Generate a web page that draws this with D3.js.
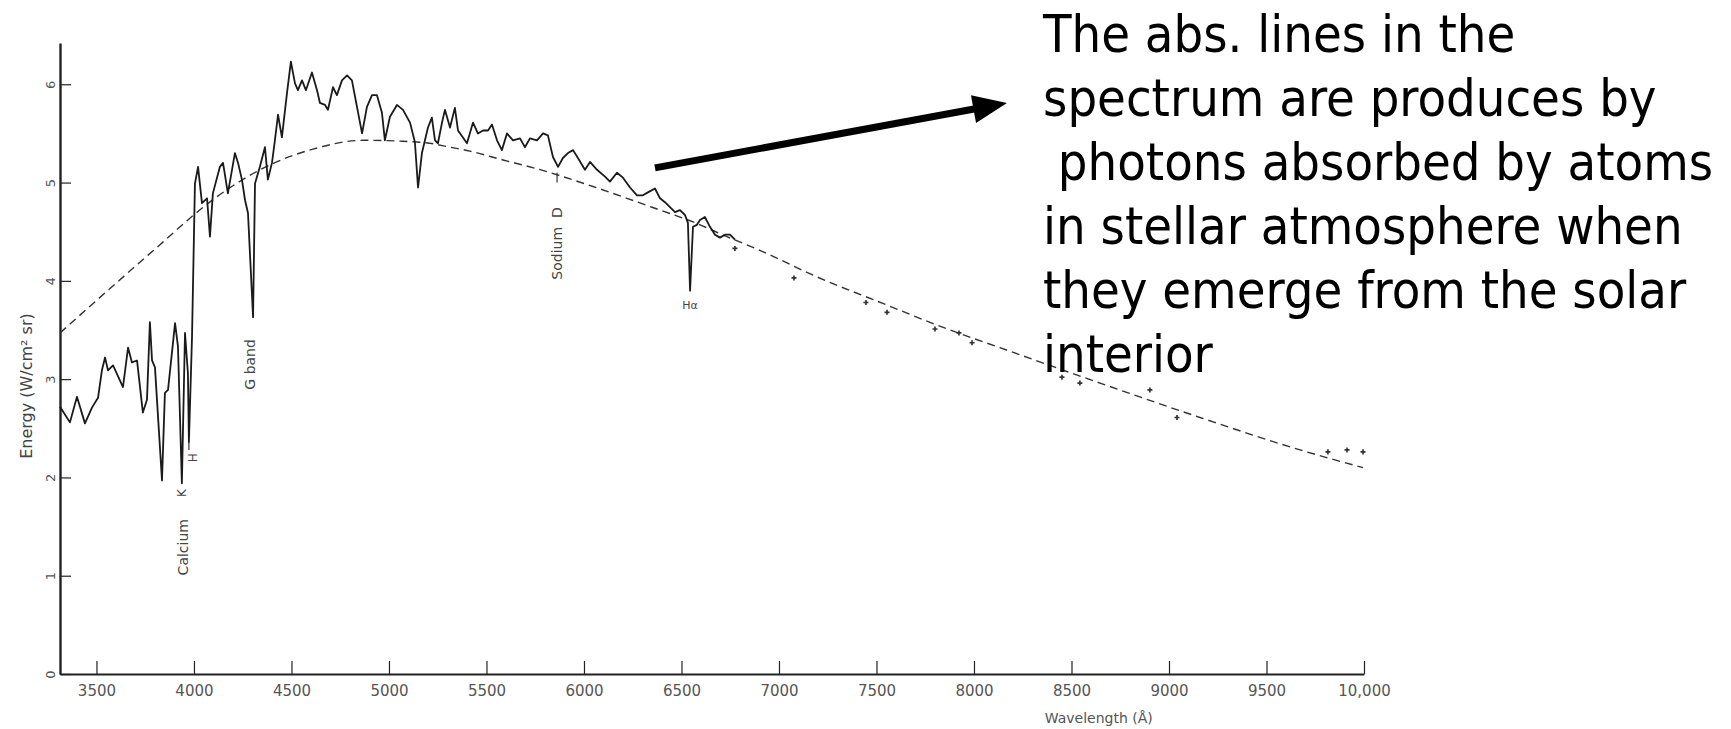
<!DOCTYPE html>
<html>
<head>
<meta charset="utf-8">
<script src="https://cdn.jsdelivr.net/npm/d3@7"></script>
<style>
  html, body { margin: 0; padding: 0; background: #fff; }
  svg { display: block; }
  .axis path, .axis line { stroke: #222; }
  .axis text { fill: #555; font-family: 'DejaVu Sans', sans-serif; }
</style>
</head>
<body>
<svg id="chart" width="1731" height="729"></svg>
<script>
// solar spectrum: [wavelength (Å), energy (W/cm² sr)]
const spectrum = [
  [3313, 2.72], [3364, 2.56], [3400, 2.82], [3441, 2.55], [3477, 2.71], [3508, 2.81],
  [3528, 3.09], [3544, 3.22], [3559, 3.09], [3585, 3.14], [3636, 2.92], [3662, 3.32],
  [3682, 3.17], [3708, 3.19], [3738, 2.66], [3759, 2.79], [3774, 3.58], [3785, 3.19],
  [3800, 3.12], [3836, 1.97], [3851, 2.86], [3867, 2.89], [3903, 3.57], [3918, 3.33],
  [3938, 1.94], [3954, 3.47], [3969, 3.06], [3974, 2.36], [3990, 3.43], [4005, 4.99],
  [4021, 5.16], [4041, 4.79], [4067, 4.84], [4082, 4.45], [4097, 4.89], [4133, 5.16],
  [4149, 5.2], [4174, 4.89], [4210, 5.3], [4226, 5.2], [4246, 5.03], [4262, 4.82],
  [4277, 4.69], [4303, 3.63], [4313, 4.99], [4338, 5.16], [4364, 5.36], [4379, 5.03],
  [4400, 5.2], [4415, 5.43], [4431, 5.69], [4451, 5.46], [4477, 5.91], [4497, 6.23],
  [4518, 6.01], [4533, 5.94], [4554, 6.04], [4574, 5.94], [4605, 6.12], [4631, 5.94],
  [4646, 5.81], [4672, 5.79], [4687, 5.74], [4713, 5.97], [4733, 5.89], [4759, 6.04],
  [4785, 6.09], [4810, 6.04], [4836, 5.77], [4862, 5.5], [4887, 5.77], [4913, 5.89],
  [4938, 5.89], [4964, 5.71], [4979, 5.43], [5005, 5.67], [5041, 5.79], [5072, 5.74],
  [5108, 5.61], [5133, 5.41], [5149, 4.95], [5169, 5.3], [5200, 5.56], [5220, 5.66],
  [5236, 5.43], [5251, 5.4], [5272, 5.61], [5287, 5.74], [5313, 5.56], [5338, 5.76],
  [5354, 5.53], [5400, 5.4], [5431, 5.61], [5456, 5.5], [5482, 5.53], [5508, 5.53],
  [5528, 5.59], [5554, 5.43], [5579, 5.33], [5605, 5.5], [5636, 5.43], [5672, 5.45],
  [5697, 5.36], [5723, 5.45], [5759, 5.43], [5790, 5.5], [5815, 5.48], [5841, 5.26],
  [5867, 5.16], [5892, 5.25], [5918, 5.3], [5944, 5.33], [5969, 5.25], [6005, 5.13],
  [6031, 5.21], [6067, 5.13], [6108, 5.06], [6133, 5.01], [6169, 5.1], [6200, 5.05],
  [6236, 4.95], [6272, 4.87], [6302, 4.87], [6328, 4.9], [6364, 4.94], [6390, 4.84],
  [6415, 4.8], [6441, 4.75], [6467, 4.7], [6492, 4.72], [6518, 4.67], [6533, 4.59],
  [6544, 3.9], [6559, 4.55], [6579, 4.57], [6595, 4.62], [6620, 4.65], [6646, 4.55],
  [6672, 4.47], [6697, 4.44], [6723, 4.47], [6749, 4.47], [6774, 4.42]
];

// smooth continuum (dashed)
const continuum = [
  [3313, 3.47], [3500, 3.8], [3700, 4.15], [3850, 4.41], [3969, 4.62], [4100, 4.83],
  [4250, 5.03], [4390, 5.18], [4610, 5.34], [4867, 5.43], [5072, 5.42],
  [5210, 5.4], [5313, 5.36], [5415, 5.32], [5585, 5.23], [5759, 5.14], [5877, 5.07],
  [6046, 4.96], [6220, 4.84], [6390, 4.72], [6559, 4.6], [6733, 4.45], [6902, 4.31],
  [7195, 4.04], [7533, 3.77], [7877, 3.5], [8133, 3.32], [8646, 2.96], [9159, 2.61],
  [9672, 2.28], [9995, 2.1]
];

// single measured points in the red
const measured = [
  [6774, 4.33], [7077, 4.03], [7446, 3.78], [7554, 3.68], [7800, 3.51], [7923, 3.47],
  [7990, 3.37], [8451, 3.02], [8543, 2.96], [8902, 2.89], [9041, 2.61], [9815, 2.26],
  [9913, 2.28], [9995, 2.26]
];

const xTicks = [3500, 4000, 4500, 5000, 5500, 6000, 6500, 7000, 7500, 8000, 8500, 9000, 9500, 10000];
const yTicks = [0, 1, 2, 3, 4, 5, 6];

// absorption line names, their wavelength and the energy where the label sits
const lineNames = ['Calcium', 'K', 'H', 'G band', 'Sodium  D'];
const lineWavelengths = [3943, 3938, 3995, 4287, 5862];
const lineLabelEnergy = [1.29, 1.84, 2.2, 3.15, 4.38];

const noteLines = [
  'The abs. lines in the',
  'spectrum are produces by',
  ' photons absorbed by atoms',
  'in stellar atmosphere when',
  'they emerge from the solar',
  'interior'
];

(() => {
  const svg = d3.select('#chart');
  svg.append('rect').attr('width', 1731).attr('height', 729).attr('fill', '#fff');

  const x = d3.scaleLinear().domain([3313, 10000]).range([60, 1364]);
  const y = d3.scaleLinear().domain([0, 6.42]).range([674, 43]);

  // axes
  const xAxis = svg.append('g')
    .attr('class', 'axis')
    .attr('transform', `translate(0,${y(0)})`)
    .call(d3.axisBottom(x)
      .tickValues(xTicks)
      .tickSize(-13)
      .tickSizeOuter(0)
      .tickPadding(11)
      .tickFormat((d) => (d === 10000 ? '10,000' : String(d))));
  xAxis.select('.domain').attr('stroke-width', 1.8);
  xAxis.selectAll('.tick line').attr('stroke-width', 1.2);
  xAxis.selectAll('text').attr('font-size', 15);

  const yAxis = svg.append('g')
    .attr('class', 'axis')
    .attr('transform', `translate(${x(3313)},0)`)
    .call(d3.axisLeft(y)
      .tickValues(yTicks)
      .tickSize(-11)
      .tickSizeOuter(0)
      .tickFormat(d3.format('d')));
  yAxis.select('.domain').attr('stroke-width', 2.4).attr('stroke', '#111');
  yAxis.selectAll('.tick line').attr('stroke-width', 1.2);
  yAxis.selectAll('text')
    .attr('font-size', 13)
    .attr('x', 0)
    .attr('dy', '0.35em')
    .attr('text-anchor', 'middle')
    .attr('transform', 'translate(-10,0) rotate(-90)');

  svg.append('text')
    .attr('transform', `translate(26,${y(2.93)}) rotate(-90)`)
    .attr('text-anchor', 'middle')
    .attr('dy', '0.35em')
    .attr('font-family', 'DejaVu Sans, sans-serif')
    .attr('font-size', 16)
    .attr('fill', '#444')
    .text('Energy (W/cm² sr)');

  svg.append('text')
    .attr('x', x(8640))
    .attr('y', 723)
    .attr('text-anchor', 'middle')
    .attr('font-family', 'DejaVu Sans, sans-serif')
    .attr('font-size', 14)
    .attr('fill', '#555')
    .text('Wavelength (Å)');

  // continuum
  svg.append('path')
    .datum(continuum)
    .attr('fill', 'none')
    .attr('stroke', '#333')
    .attr('stroke-width', 1.4)
    .attr('stroke-dasharray', '8,5')
    .attr('d', d3.line().x((d) => x(d[0])).y((d) => y(d[1])).curve(d3.curveMonotoneX));

  // observed spectrum
  svg.append('path')
    .datum(spectrum)
    .attr('fill', 'none')
    .attr('stroke', '#1a1a1a')
    .attr('stroke-width', 1.8)
    .attr('stroke-linejoin', 'round')
    .attr('d', d3.line().x((d) => x(d[0])).y((d) => y(d[1])));

  svg.append('g')
    .selectAll('path')
    .data(measured)
    .join('path')
    .attr('transform', (d) => `translate(${x(d[0])},${y(d[1])})`)
    .attr('d', d3.symbol(d3.symbolCross, 14))
    .attr('fill', '#333');

  // line labels
  svg.append('g')
    .selectAll('text')
    .data(lineNames)
    .join('text')
    .attr('transform', (d, i) => `translate(${x(lineWavelengths[i])},${y(lineLabelEnergy[i])}) rotate(-90)`)
    .attr('text-anchor', 'middle')
    .attr('dy', '0.35em')
    .attr('font-family', 'DejaVu Sans, sans-serif')
    .attr('font-size', (d) => (d.length === 1 ? 12 : 14))
    .attr('fill', '#444')
    .style('white-space', 'pre')
    .text((d) => d);

  // short leaders for H and Sodium D
  svg.append('line')
    .attr('x1', x(3974)).attr('x2', x(3974))
    .attr('y1', y(2.36)).attr('y2', y(2.28))
    .attr('stroke', '#333').attr('stroke-width', 1.2);
  svg.append('line')
    .attr('x1', x(5862)).attr('x2', x(5862))
    .attr('y1', y(5.1)).attr('y2', y(5.0))
    .attr('stroke', '#333').attr('stroke-width', 1.2);

  svg.append('text')
    .attr('x', x(6544))
    .attr('y', y(3.75))
    .attr('text-anchor', 'middle')
    .attr('dy', '0.35em')
    .attr('font-family', 'DejaVu Sans, sans-serif')
    .attr('font-size', 11)
    .attr('fill', '#444')
    .text('Hα');

  // annotation arrow
  const start = [x(6364), y(5.15)];
  const tip = [x(8169), y(5.81)];
  const dx = tip[0] - start[0];
  const dy = tip[1] - start[1];
  const len = Math.hypot(dx, dy);
  const u = [dx / len, dy / len];
  const n = [-u[1], u[0]];
  const headLen = 34;
  const headHalf = 14;
  const base = [tip[0] - headLen * u[0], tip[1] - headLen * u[1]];

  svg.append('line')
    .attr('x1', start[0]).attr('y1', start[1])
    .attr('x2', base[0] + 2 * u[0]).attr('y2', base[1] + 2 * u[1])
    .attr('stroke', '#000')
    .attr('stroke-width', 7);
  svg.append('path')
    .attr('d', `M${tip[0]},${tip[1]}L${base[0] + headHalf * n[0]},${base[1] + headHalf * n[1]}L${base[0] - headHalf * n[0]},${base[1] - headHalf * n[1]}Z`)
    .attr('fill', '#000');

  // note text
  svg.append('g')
    .selectAll('text')
    .data(noteLines)
    .join('text')
    .attr('x', 1043)
    .attr('y', (d, i) => 52 + i * 64)
    .attr('font-family', 'DejaVu Sans Condensed, DejaVu Sans, sans-serif')
    .attr('font-stretch', 'condensed')
    .attr('font-size', 52)
    .attr('fill', '#000')
    .style('white-space', 'pre')
    .text((d) => d);
})();
</script>
</body>
</html>
